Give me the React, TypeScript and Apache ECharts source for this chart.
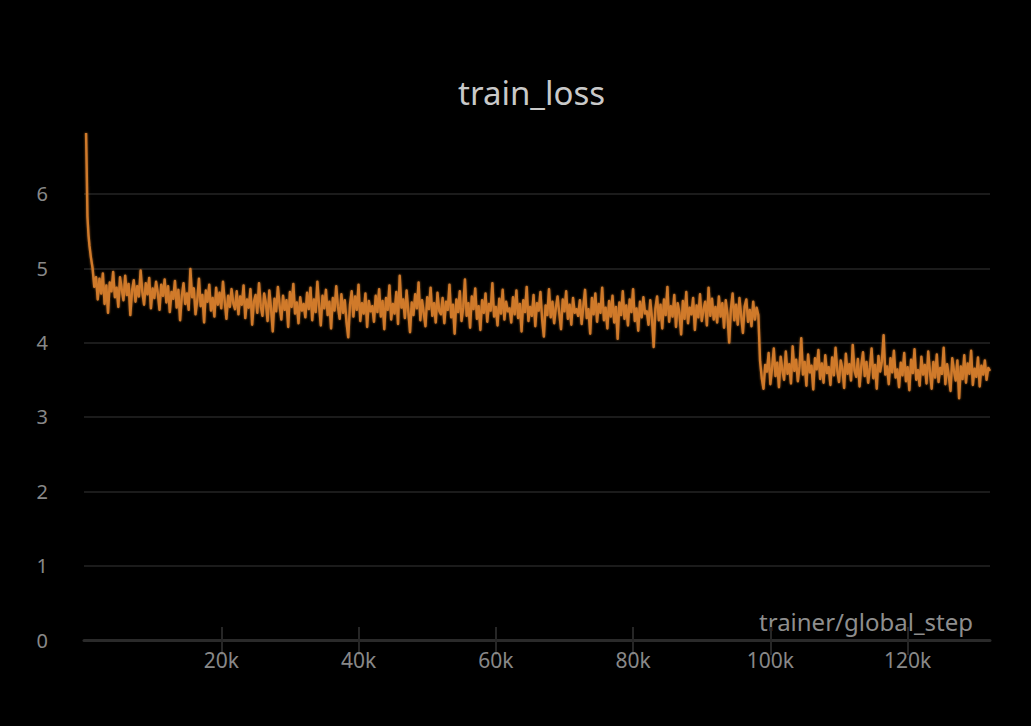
import React, { useEffect, useRef } from "react";
import * as echarts from "echarts";

const chartTitle = "train_loss";
const xAxisName = "trainer/global_step";
const xTickValues = [20000, 40000, 60000, 80000, 100000, 120000];
const yTickCount = 7; // 0..6

// warm-up spike (step, loss)
const warmupSteps = [300, 400, 500, 650, 800, 1000, 1250, 1500, 1750];
const warmupLoss = [6.82, 6.3, 5.7, 5.45, 5.3, 5.15, 5.0, 4.75, 4.88];

// logged every 250 steps starting at step 2000
const regularStart = 2000;
const regularEvery = 250;
const loss02k = [
  4.58, 4.86, 4.66, 4.93, 4.52, 4.77, 4.4, 4.81, 4.69, 4.95, 4.61, 4.74, 4.48, 4.88, 4.72, 4.57, 4.9, 4.64, 4.79, 4.37,
  4.7, 4.84, 4.55, 4.76, 4.62, 4.97, 4.68, 4.51, 4.8, 4.65, 4.87, 4.46, 4.73, 4.6, 4.82, 4.67, 4.44, 4.78, 4.63, 4.85,
];
const loss12k = [
  4.54, 4.76, 4.41, 4.68, 4.59, 4.83, 4.47, 4.71, 4.3, 4.62, 4.8, 4.52, 4.66, 4.44, 4.99, 4.61, 4.73, 4.38, 4.57, 4.86,
  4.49, 4.64, 4.27, 4.7, 4.55, 4.78, 4.43, 4.6, 4.35, 4.74, 4.51, 4.67, 4.46, 4.82, 4.56, 4.32, 4.63, 4.48, 4.72, 4.53,
];
const loss22k = [
  4.45, 4.69, 4.38, 4.62, 4.51, 4.77, 4.33, 4.58, 4.47, 4.72, 4.24, 4.55, 4.64, 4.4, 4.8, 4.49, 4.36, 4.66, 4.53, 4.29,
  4.7, 4.46, 4.15, 4.59, 4.42, 4.75, 4.5, 4.31, 4.63, 4.44, 4.57, 4.21, 4.68, 4.48, 4.79, 4.39, 4.54, 4.26, 4.61, 4.43,
];
const loss32k = [
  4.52, 4.34, 4.67, 4.45, 4.74, 4.3, 4.58, 4.41, 4.82, 4.5, 4.23, 4.63, 4.46, 4.71, 4.37, 4.55, 4.19, 4.6, 4.43, 4.76,
  4.48, 4.32, 4.65, 4.4, 4.57, 4.27, 4.07, 4.51, 4.69, 4.35, 4.62, 4.44, 4.78, 4.29, 4.53, 4.39, 4.66, 4.21, 4.56, 4.42,
];
const loss42k = [
  4.49, 4.28, 4.63, 4.41, 4.72, 4.35, 4.56, 4.18, 4.6, 4.44, 4.77, 4.31, 4.52, 4.39, 4.68, 4.25, 4.9, 4.47, 4.58, 4.33,
  4.7, 4.42, 4.14, 4.54, 4.37, 4.65, 4.46, 4.81, 4.3, 4.57, 4.4, 4.22, 4.61, 4.45, 4.74, 4.36, 4.53, 4.27, 4.67, 4.43,
];
const loss52k = [
  4.38, 4.6, 4.26, 4.55, 4.44, 4.78, 4.34, 4.51, 4.12, 4.58, 4.41, 4.69, 4.29, 4.47, 4.85, 4.36, 4.53, 4.2, 4.62, 4.45,
  4.73, 4.32, 4.49, 4.17, 4.57, 4.4, 4.66, 4.28, 4.52, 4.43, 4.8, 4.35, 4.48, 4.23, 4.59, 4.39, 4.71, 4.31, 4.55, 4.42,
];
const loss62k = [
  4.46, 4.27, 4.61, 4.38, 4.7, 4.33, 4.52, 4.15, 4.57, 4.41, 4.75, 4.29, 4.48, 4.36, 4.64, 4.22, 4.53, 4.43, 4.68, 4.31,
  4.08, 4.5, 4.37, 4.72, 4.34, 4.55, 4.26, 4.47, 4.62, 4.39, 4.18, 4.58, 4.42, 4.69, 4.32, 4.51, 4.24, 4.6, 4.4, 4.45,
];
const loss72k = [
  4.36, 4.57, 4.25, 4.49, 4.71, 4.33, 4.45, 4.12, 4.6, 4.38, 4.66, 4.28, 4.52, 4.4, 4.74, 4.3, 4.47, 4.19, 4.56, 4.35,
  4.63, 4.27, 4.48, 4.05, 4.54, 4.37, 4.69, 4.32, 4.5, 4.23, 4.58, 4.41, 4.72, 4.29, 4.46, 4.16, 4.55, 4.34, 4.61, 4.39,
];
const loss82k = [
  4.42, 4.24, 4.57, 4.33, 3.94, 4.46, 4.62, 4.3, 4.51, 4.19, 4.58, 4.37, 4.75, 4.28, 4.49, 4.35, 4.64, 4.21, 4.53, 4.4,
  4.11, 4.56, 4.32, 4.68, 4.26, 4.47, 4.38, 4.6, 4.17, 4.5, 4.34, 4.65, 4.29, 4.44, 4.55, 4.23, 4.74, 4.36, 4.59, 4.31,
];
const loss92k = [
  4.48, 4.27, 4.62, 4.35, 4.53, 4.2, 4.57, 4.38, 4.0, 4.45, 4.66, 4.3, 4.51, 4.24, 4.6, 4.36, 4.13, 4.49, 4.58, 4.28,
  4.44, 4.22, 4.55, 4.31, 4.47, 4.37,
];
const loss98k = [
  3.75, 3.52, 3.38, 3.7, 3.61, 3.86, 3.44, 3.66, 3.92, 3.55, 3.73, 3.4, 3.81, 3.63, 3.5, 3.88, 3.58, 3.71, 3.45, 3.95,
  3.62, 3.77, 3.48, 3.68, 4.06, 3.57, 3.74, 3.42, 3.84, 3.6, 3.69, 3.37, 3.79, 3.64, 3.9, 3.51, 3.72, 3.46, 3.83, 3.59,
];
const loss108k = [
  3.67, 3.43, 3.8, 3.56, 3.93, 3.62, 3.47, 3.76, 3.65, 3.39, 3.85, 3.58, 3.71, 3.49, 3.97, 3.63, 3.54, 3.78, 3.41, 3.69,
  3.87, 3.55, 3.74, 3.46, 3.66, 3.92, 3.52, 3.7, 3.38, 3.82, 3.61, 3.75, 4.1, 3.57, 3.68, 3.44, 3.79, 3.6, 3.89, 3.53,
];
const loss118k = [
  3.64, 3.4, 3.73, 3.56, 3.86, 3.48, 3.67, 3.36, 3.77, 3.59, 3.91, 3.5, 3.63, 3.42, 3.81, 3.57, 3.7, 3.45, 3.88, 3.61,
  3.38, 3.74, 3.53, 3.84, 3.47, 3.66, 3.58, 3.93, 3.44, 3.71, 3.55, 3.35, 3.79, 3.62, 3.49, 3.76, 3.25, 3.68, 3.51, 3.83,
];
const loss128k = [3.46, 3.72, 3.58, 3.89, 3.43, 3.65, 3.54, 3.8, 3.41, 3.69, 3.57, 3.76, 3.5, 3.66, 3.62];

const regularLoss = [
  ...loss02k, ...loss12k, ...loss22k, ...loss32k, ...loss42k, ...loss52k, ...loss62k,
  ...loss72k, ...loss82k, ...loss92k, ...loss98k, ...loss108k, ...loss118k, ...loss128k,
];

export default function App() {
  const ref = useRef<HTMLDivElement>(null);
  useEffect(() => {
    if (!ref.current) return;
    const chart = echarts.init(ref.current, undefined, { renderer: "svg" });
    const data: [number, number][] = [];
    warmupSteps.forEach((s, i) => data.push([s, warmupLoss[i]]));
    regularLoss.forEach((v, i) => data.push([regularStart + i * regularEvery, v]));

    const gridColors: string[] = [];
    for (let i = 0; i < yTickCount; i++) gridColors.push("#1b1b1b");
    gridColors.push("rgba(0,0,0,0)");

    const fmt = (v: number) => `${Math.round(v / 1000)}k`;
    const font = "'Noto Sans', sans-serif";

    chart.setOption({
      animation: false,
      backgroundColor: "#000000",
      title: {
        text: chartTitle,
        left: 453,
        top: 71,
        textStyle: { color: "#c9c9c9", fontSize: 33, fontWeight: "normal", fontFamily: font },
      },
      grid: { left: 84, right: 41, top: 127, bottom: 86, containLabel: false },
      xAxis: [
        {
          type: "value",
          min: 0,
          max: 132000,
          position: "bottom",
          name: xAxisName,
          nameLocation: "end",
          nameGap: -17,
          nameTextStyle: {
            color: "#8e8e8e",
            fontSize: 24,
            fontFamily: font,
            align: "right",
            verticalAlign: "bottom",
            padding: [0, 0, 7, 0],
          },
          axisLine: { show: true, lineStyle: { color: "#2a2a2a", width: 3 } },
          axisTick: { show: true, customValues: xTickValues, length: 15, lineStyle: { color: "#262626", width: 2 } },
          axisLabel: {
            customValues: xTickValues,
            formatter: fmt,
            color: "#888888",
            fontSize: 21,
            fontFamily: font,
            margin: 9,
          },
          splitLine: { show: false },
        },
        {
          type: "value",
          min: 0,
          max: 132000,
          position: "bottom",
          axisLine: { show: false },
          axisTick: {
            show: true,
            inside: true,
            customValues: xTickValues,
            length: 13,
            lineStyle: { color: "#262626", width: 2 },
          },
          axisLabel: { show: false },
          splitLine: { show: false },
        },
      ],
      yAxis: {
        type: "value",
        min: 0,
        max: 6.9,
        interval: 1,
        axisLine: { show: false },
        axisTick: { show: false },
        axisLabel: {
          showMaxLabel: false,
          color: "#888888",
          fontSize: 20,
          fontFamily: font,
          margin: 36,
        },
        splitLine: { show: true, lineStyle: { color: gridColors, width: 2 } },
      },
      series: [
        {
          type: "line",
          xAxisIndex: 0,
          data,
          showSymbol: false,
          lineStyle: {
            color: "#d07a2c",
            width: 2.4,
            join: "round",
            shadowBlur: 2,
            shadowColor: "rgba(208,122,44,0.7)",
          },
          itemStyle: { color: "#d07a2c" },
          z: 3,
        },
      ],
    });
    return () => chart.dispose();
  }, []);
  return <div ref={ref} style={{ position: "fixed", left: 0, top: 0, width: 1031, height: 726 }} />;
}
